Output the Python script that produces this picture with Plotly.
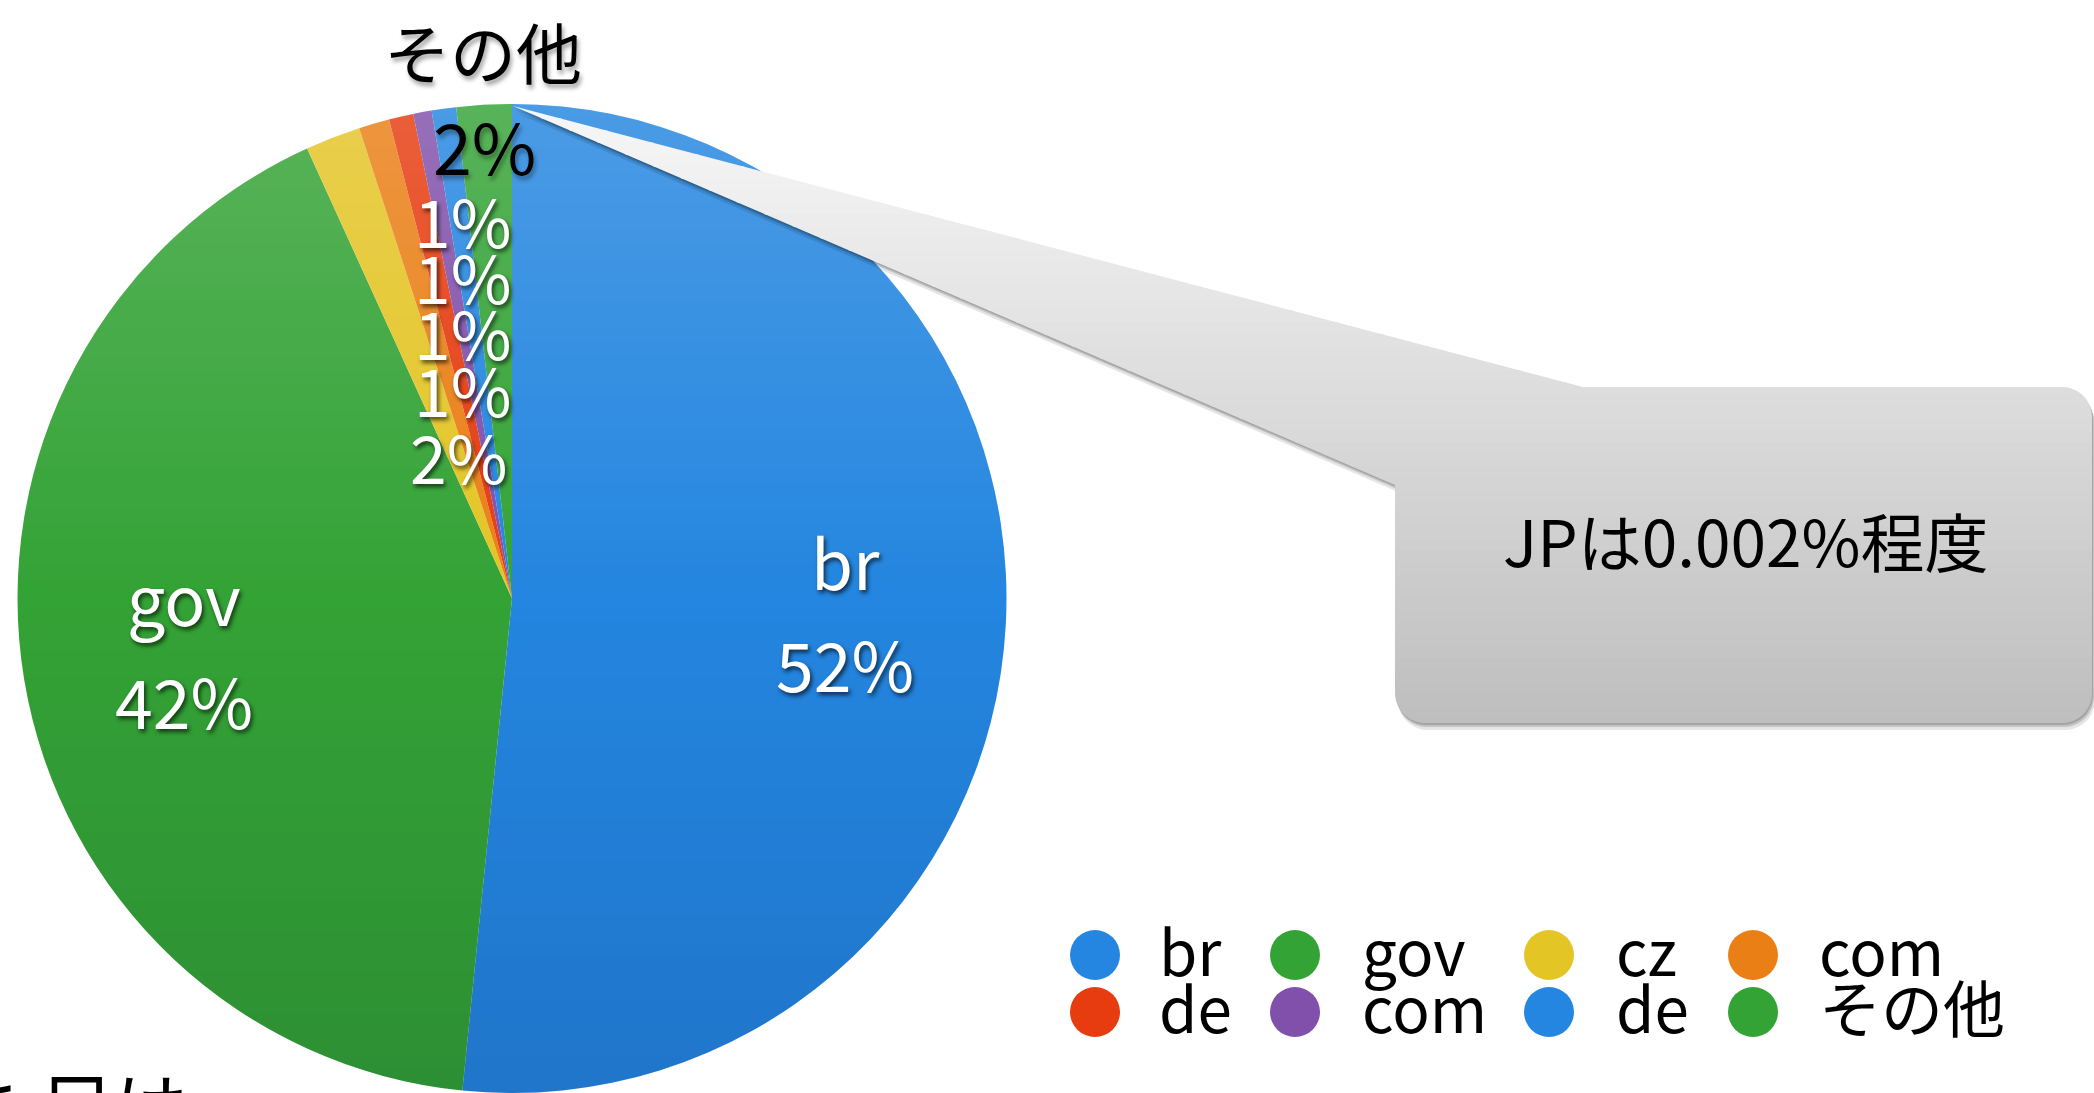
import math
import plotly.graph_objects as go

# ---------------- data ----------------
domains = ["br", "gov", "cz", "com", "de", "com", "de", "その他"]
shares = [51.6, 41.6, 1.8, 1.0, 0.8, 0.6, 0.8, 1.8]
colors = ["#2486e0", "#34a336", "#e4c526", "#ea7f16", "#e63c10", "#8050aa", "#2486e0", "#34a336"]
callout_text = "JPは0.002%程度"
footer_text = "見た目は"

# ---------------- canvas ----------------
W, H = 2094, 1093
FONT = "Noto Sans CJK JP"


def px(x):
    return x / W


def py(y):
    return 1 - y / H


total = sum(shares)
pct = [f"{round(v / total * 100)}%" for v in shares]
uniq = [n + "\u200b" * i for i, n in enumerate(domains)]  # keep duplicate names as separate slices

fig = go.Figure()

PIE_L, PIE_R, PIE_T = 16, 1008, 104
dom_x = [px(PIE_L), px(PIE_R)]
dom_y = [0, py(PIE_T)]
fig.add_trace(go.Pie(
    labels=uniq, values=shares, sort=False, direction="clockwise", rotation=0,
    marker=dict(colors=colors, line=dict(width=0)),
    textinfo="none", hovertext=domains,
    hovertemplate="%{hovertext}: %{percent}<extra></extra>",
    domain=dict(x=dom_x, y=dom_y), showlegend=False,
))

# pie geometry (pixels) for decorative shading
pw, ph = PIE_R - PIE_L, H - PIE_T
R = min(pw, ph) / 2
CX = (PIE_L + PIE_R) / 2
CY = H - ph / 2


def clip_band(poly, y0, y1):
    def clip(pts, keep, inter):
        out = []
        n = len(pts)
        for i in range(n):
            a, b = pts[i], pts[(i + 1) % n]
            ka, kb = keep(a), keep(b)
            if ka:
                out.append(a)
                if not kb:
                    out.append(inter(a, b))
            elif kb:
                out.append(inter(a, b))
        return out

    def iy(yc):
        def f(a, b):
            t = (yc - a[1]) / (b[1] - a[1])
            return (a[0] + t * (b[0] - a[0]), yc)
        return f

    p = clip(poly, lambda q: q[1] >= y0, iy(y0))
    if len(p) < 3:
        return []
    p = clip(p, lambda q: q[1] <= y1, iy(y1))
    return p if len(p) >= 3 else []


def path_of(pts, dx=0, dy=0):
    s = "M " + " L ".join(f"{px(x + dx):.6f},{py(y + dy):.6f}" for x, y in pts) + " Z"
    return s


shapes = []

# soft vertical gradient over the pie (light top, darker bottom)
circle = [(CX + R * math.cos(2 * math.pi * k / 240), CY + R * math.sin(2 * math.pi * k / 240)) for k in range(240)]
band = 14
y = CY - R
while y < CY + R:
    y1 = min(y + band, CY + R)
    poly = clip_band(circle, y, y1)
    if poly:
        ym = (y + y1) / 2
        if ym < CY:
            a = 0.18 * (CY - ym) / R
            col = f"rgba(255,255,255,{a:.4f})"
        else:
            a = 0.12 * (ym - CY) / R
            col = f"rgba(0,0,40,{a:.4f})"
        shapes.append(dict(type="path", path=path_of(poly), xref="paper", yref="paper",
                           fillcolor=col, line=dict(width=0), layer="above"))
    y = y1

# callout bubble
BX0, BY0, BX1, BY1, RAD = 1395, 387, 2092, 723, 30
tip = (513, 106)
up_pt = (1583, 387)
low_pt = (1395, 485)


def arc(cx, cy, r, a0, a1, n=10):
    return [(cx + r * math.cos(math.radians(a0 + (a1 - a0) * k / n)),
             cy + r * math.sin(math.radians(a0 + (a1 - a0) * k / n))) for k in range(n + 1)]


bubble = [tip, up_pt]
bubble += arc(BX1 - RAD, BY0 + RAD, RAD, -90, 0)
bubble += arc(BX1 - RAD, BY1 - RAD, RAD, 0, 90)
bubble += arc(BX0 + RAD, BY1 - RAD, RAD, 90, 180)
bubble += [low_pt]

for (dx, dy, a) in [(3, 7, 0.10), (2, 4, 0.14), (1, 2, 0.16)]:
    shapes.append(dict(type="path", path=path_of(bubble, dx, dy), xref="paper", yref="paper",
                       fillcolor=f"rgba(0,0,0,{a})", line=dict(width=0), layer="above"))

ytop, ybot = tip[1], BY1
y = ytop
band = 12
while y < ybot:
    y1 = min(y + band, ybot)
    poly = clip_band(bubble, y, min(y1 + 1, ybot))
    if poly:
        t = ((y + y1) / 2 - ytop) / (ybot - ytop)
        g = round(247 - (247 - 190) * t)
        shapes.append(dict(type="path", path=path_of(poly), xref="paper", yref="paper",
                           fillcolor=f"rgb({g},{g},{g})", line=dict(width=0), layer="above"))
    y = y1

annotations = []
DY = -6  # vertical text nudge


def ann(text, x, y, size, color="black", shadow="none", xanchor="center"):
    annotations.append(dict(text=text, x=px(x), y=py(y + DY), xref="paper", yref="paper",
                            xanchor=xanchor, yanchor="middle", showarrow=False,
                            font=dict(family=FONT, size=size, color=color, shadow=shadow)))


WSH = "2px 3px 4px rgba(0,0,0,0.65)"
BSH = "2px 4px 4px rgba(0,0,0,0.35)"

# big slice labels
ann(domains[0], 845, 566, 68, "white", WSH)
ann(pct[0], 845, 668, 68, "white", WSH)
ann(domains[1], 184, 603, 68, "white", WSH)
ann(pct[1], 184, 705, 68, "white", WSH)

# small slice labels (stacked as in the slide)
small_pos = {2: (458, 461), 3: (462, 394), 4: (462, 337), 5: (462, 281), 6: (462, 225)}
for i, (x, y) in small_pos.items():
    ann(pct[i], x, y, 66, "white", WSH)
ann(pct[7], 484, 150, 70, "black", BSH)
ann(domains[7], 483, 56, 66, "black", BSH)

# callout text
ann(callout_text, 1746, 545, 64)

# footer fragment
ann(footer_text, 40, 1108, 74)

# custom legend
circ_x = [1095, 1295, 1549, 1753]
text_x = [1157, 1360, 1614, 1817]
row_y = [955, 1012]
LR = 25
for i, name in enumerate(domains):
    r_, c_ = divmod(i, 4)
    cx, cy = circ_x[c_], row_y[r_]
    shapes.append(dict(type="circle", xref="paper", yref="paper",
                       x0=px(cx - LR), x1=px(cx + LR), y0=py(cy + LR), y1=py(cy - LR),
                       fillcolor=colors[i], line=dict(width=0), layer="above"))
    ann(name, text_x[c_], cy, 62, xanchor="left")

fig.update_layout(
    width=W, height=H, autosize=False,
    margin=dict(l=0, r=0, t=0, b=0, pad=0),
    paper_bgcolor="white", plot_bgcolor="white",
    shapes=shapes, annotations=annotations,
    showlegend=False,
)

fig.write_html(
    "out.html",
    config={"displayModeBar": False},
    post_script="document.body.style.margin='0';document.body.style.overflow='hidden';",
)
